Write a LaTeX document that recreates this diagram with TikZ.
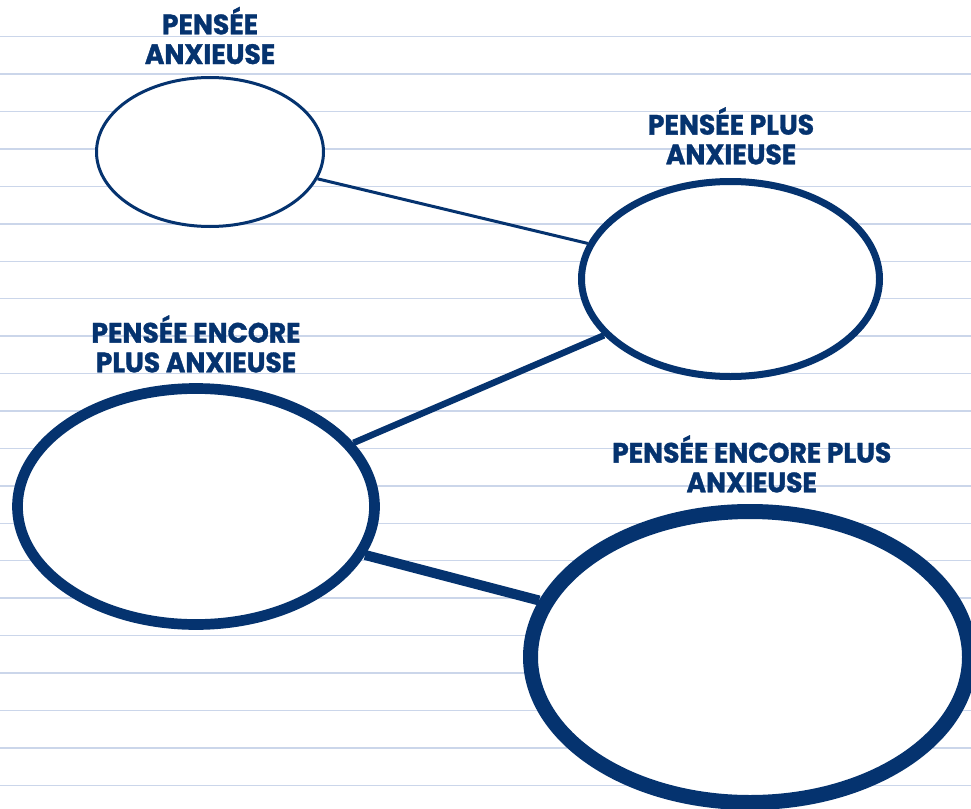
\documentclass[tikz,border=0pt]{standalone}
\usepackage{fontspec}
\setmainfont{Poppins}[FakeStretch=0.95, BoldFeatures={FakeBold=1.2}]
\usetikzlibrary{shapes.geometric}
\definecolor{navy}{HTML}{05336F}
\definecolor{rulec}{HTML}{CBD6EA}
\tikzset{
  rule/.style={draw=rulec, line width=1.5pt},
  bubble/.style={ellipse, draw=navy, fill=white, inner sep=0pt},
  link/.style={draw=navy},
  lbl/.style={align=center, text=navy, anchor=base, inner sep=0pt,
    font=\fontsize{28}{29.7}\selectfont\bfseries},
}
\begin{document}
\begin{tikzpicture}[x=1pt, y=-1pt]
\useasboundingbox (0,0) rectangle (971,808);
\clip (0,0) rectangle (971,808);
\fill[white] (0,0) rectangle (971,808);
\foreach \k in {0,...,20} {
  \draw[rule] (0,36.7+37.43*\k) -- (971,36.7+37.43*\k);
}
\node[bubble, line width=3pt, minimum width=227pt, minimum height=149pt] (e1) at (210,152) {};
\node[bubble, line width=7pt, minimum width=298pt, minimum height=195pt] (e2) at (730.5,279) {};
\node[bubble, line width=10.7pt, minimum width=357pt, minimum height=236pt] (e3) at (196,506.5) {};
\node[bubble, line width=15pt, minimum width=439pt, minimum height=291pt] (e4) at (750,657) {};
\draw[link, line width=3pt] (e1.-14.5) -- (e2.166.7);
\draw[link, line width=6.5pt] (e2.204.6) -- (e3.22);
\draw[link, line width=10pt] (e3.-16.8) -- (e4.165.5);
\node[lbl] (t1) at (210,64) {PENSÉE\\ANXIEUSE};
\node[lbl] (t2) at (731,164.3) {PENSÉE PLUS\\ANXIEUSE};
\node[lbl] (t3) at (196,372.3) {PENSÉE ENCORE\\PLUS ANXIEUSE};
\node[lbl] (t4) at (751.7,492.3) {PENSÉE ENCORE PLUS\\ANXIEUSE};
\end{tikzpicture}
\end{document}
